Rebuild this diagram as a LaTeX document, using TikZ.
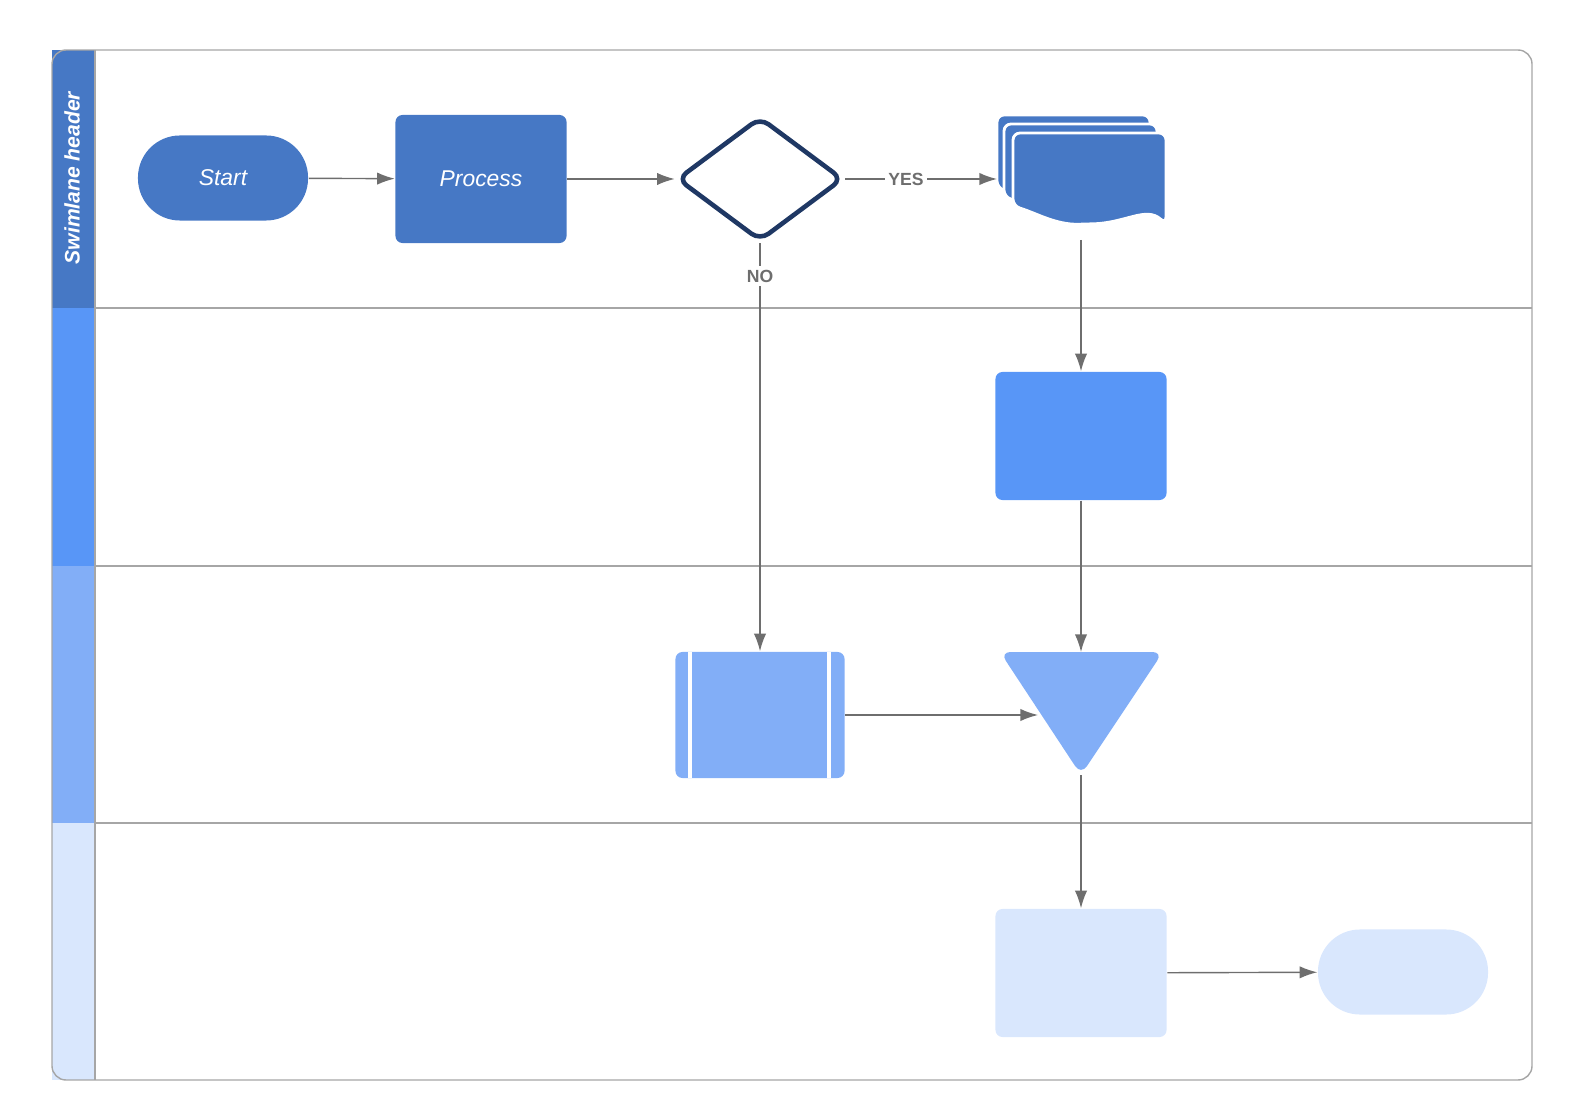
\documentclass[tikz,border=0pt]{standalone}
\usepackage{fontspec}
\setmainfont{Liberation Sans}
\usetikzlibrary{shapes.geometric,arrows.meta}
\definecolor{laneA}{HTML}{4678C5}
\definecolor{laneB}{HTML}{5896F7}
\definecolor{laneC}{HTML}{82AEF7}
\definecolor{laneD}{HTML}{D9E7FD}
\definecolor{edge}{HTML}{6E6E6E}
\definecolor{navy}{HTML}{1F3864}
\begin{document}
\begin{tikzpicture}[x=0.01cm,y=-0.01cm,
    box/.style={shape=rectangle, rounded corners=2pt, minimum width=1.71cm, minimum height=1.28cm, inner sep=0pt},
    term/.style={shape=rectangle, rounded corners=0.42cm, minimum width=1.70cm, minimum height=0.85cm, inner sep=0pt},
    lbl/.style={font=\fontsize{6.5}{7}\selectfont\itshape, text=white},
    flow/.style={draw=edge, -{Latex[length=5pt,width=3.5pt]}},
    tag/.style={font=\fontsize{5}{6}\selectfont\bfseries, text=edge, fill=white, inner sep=1pt}]
    \useasboundingbox (0,0) rectangle (1570,1116);

    % lanes
    \fill[laneA] (52,50) rectangle (95,308);
    \fill[laneB] (52,308) rectangle (95,566);
    \fill[laneC] (52,566) rectangle (95,823);
    \fill[laneD] (52,823) rectangle (95,1080);
    \draw[gray!70] (95,308) -- (1532,308) (95,566) -- (1532,566) (95,823) -- (1532,823);
    \draw[gray!70] (95,50) -- (95,1080);
    \draw[gray!70, rounded corners=4pt] (52,50) rectangle (1532,1080);
    \node[rotate=90, text=white, font=\fontsize{6}{7}\selectfont\bfseries\itshape] (hdr) at (72,178) {Swimlane header};

    % shapes
    \node[term, fill=laneA, lbl] (start) at (223,178) {Start};
    \node[box, fill=laneA, lbl] (proc) at (481,179) {Process};
    \node[diamond, draw=navy, line width=1.3pt, rounded corners=3pt, fill=white, minimum width=1.66cm, minimum height=1.24cm, inner sep=0pt, aspect=1.34] (dec) at (760,179) {};
    \foreach \dx/\dy in {0/0, 7/9, 16/18}
        \fill[laneA, draw=white, line width=0.8pt, rounded corners=2pt]
            (997+\dx,115+\dy) -- (997+\dx+153,115+\dy) -- (997+\dx+153,206+\dy)
            .. controls (1130+\dx,188+\dy) and (1110+\dx,205+\dy) .. (1070+\dx,206+\dy)
            .. controls (1040+\dx,207+\dy) and (1020+\dx,195+\dy) .. (997+\dx,188+\dy) -- cycle;
    \coordinate (docin) at (997,179);
    \coordinate (docout) at (1081,240);
    \node[box, fill=laneB] (task) at (1081,436) {};
    \node[box, fill=laneC, minimum width=1.69cm, minimum height=1.26cm] (sub) at (760,715) {};
    \draw[white, line width=1.2pt] (690,652) -- (690,778) (829,652) -- (829,778);
    \fill[laneC, rounded corners=3pt] (1000,652) -- (1163,652) -- (1081,775) -- cycle;
    \coordinate (mtop) at (1081,652);
    \coordinate (mleft) at (1038,715);
    \coordinate (mbot) at (1081,775);
    \node[box, fill=laneD] (fin) at (1081,973) {};
    \node[term, fill=laneD] (stop) at (1403,972) {};

    % connectors
    \draw[flow] (start) -- (proc);
    \draw[flow] (proc) -- (dec);
    \draw[flow] (dec) -- node[tag, pos=0.4]{YES} (docin);
    \draw[flow] (dec) -- node[tag, pos=0.08]{NO} (sub);
    \draw[flow] (docout) -- (task);
    \draw[flow] (task) -- (mtop);
    \draw[flow] (sub) -- (mleft);
    \draw[flow] (mbot) -- (fin);
    \draw[flow] (fin) -- (stop);
\end{tikzpicture}
\end{document}
